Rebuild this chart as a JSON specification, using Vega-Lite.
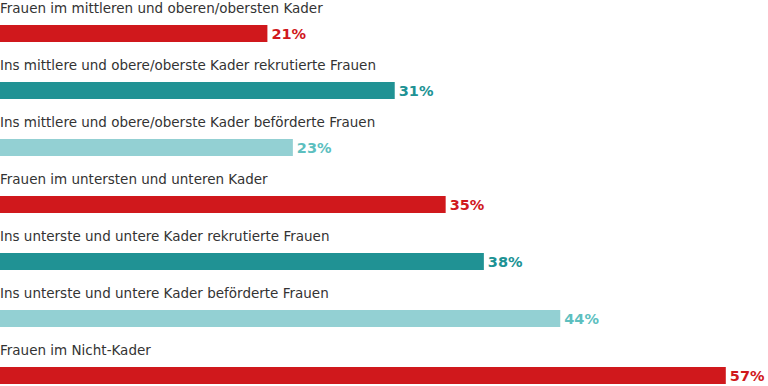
{
  "$schema": "https://vega.github.io/schema/vega-lite/v6.json",
  "width": 768,
  "height": 386,
  "autosize": "none",
  "padding": 0,
  "background": "white",
  "config": {"view": {"stroke": null}},
  "data": {"values": [
    {"label": "Frauen im mittleren und oberen/obersten Kader", "value": 21, "kind": "a"},
    {"label": "Ins mittlere und obere/oberste Kader rekrutierte Frauen", "value": 31, "kind": "b"},
    {"label": "Ins mittlere und obere/oberste Kader beförderte Frauen", "value": 23, "kind": "c"},
    {"label": "Frauen im untersten und unteren Kader", "value": 35, "kind": "a"},
    {"label": "Ins unterste und untere Kader rekrutierte Frauen", "value": 38, "kind": "b"},
    {"label": "Ins unterste und untere Kader beförderte Frauen", "value": 44, "kind": "c"},
    {"label": "Frauen im Nicht-Kader", "value": 57, "kind": "a"}
  ]},
  "transform": [{"calculate": "datum.value + '%'", "as": "pct"}],
  "encoding": {
    "y": {"field": "label", "type": "nominal", "sort": null, "axis": null,
          "scale": {"type": "point", "range": [33.5, 375.5], "padding": 0}},
    "x": {"field": "value", "type": "quantitative", "axis": null,
          "scale": {"domain": [0, 60], "range": [0, 764], "nice": false}}
  },
  "layer": [
    {
      "mark": {"type": "bar", "height": 17, "orient": "horizontal"},
      "encoding": {
        "color": {"field": "kind", "type": "nominal", "legend": null,
                  "scale": {"domain": ["a", "b", "c"], "range": ["#D0181C", "#209294", "#93D0D3"]}}
      }
    },
    {
      "mark": {"type": "text", "align": "left", "baseline": "alphabetic", "dx": 4, "dy": 5.5,
               "font": "DejaVu Sans", "fontSize": 14.5, "fontWeight": "bold"},
      "encoding": {
        "text": {"field": "pct"},
        "color": {"field": "kind", "type": "nominal", "legend": null,
                  "scale": {"domain": ["a", "b", "c"], "range": ["#D0181C", "#209294", "#5DBFBF"]}}
      }
    },
    {
      "mark": {"type": "text", "align": "left", "baseline": "alphabetic", "dy": -20.5,
               "font": "DejaVu Sans", "fontSize": 13.5, "color": "#333333"},
      "encoding": {
        "x": {"datum": 0},
        "text": {"field": "label"}
      }
    }
  ],
  "resolve": {"scale": {"color": "independent"}}
}
